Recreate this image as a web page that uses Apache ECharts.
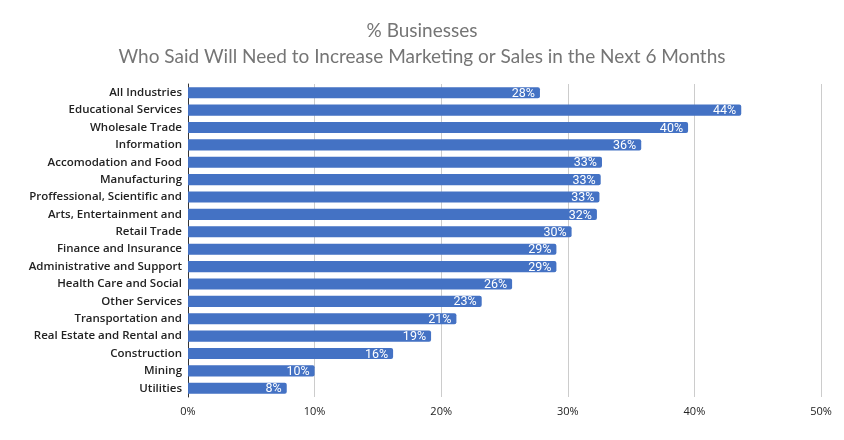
<!DOCTYPE html>
<html><head><meta charset="utf-8">
<script src="https://cdn.jsdelivr.net/npm/echarts@6/dist/echarts.min.js"></script>
<style>html,body{margin:0;padding:0;background:#fff}#c{width:844px;height:440px}</style>
</head><body><div id="c"></div>
<script>
const categories = ["All Industries","Educational Services","Wholesale Trade","Information","Accomodation and Food","Manufacturing","Proffessional, Scientific and","Arts, Entertainment and","Retail Trade","Finance and Insurance","Administrative and Support","Health Care and Social","Other Services","Transportation and","Real Estate and Rental and","Construction","Mining","Utilities"];
const values = [27.8,43.7,39.5,35.8,32.7,32.6,32.5,32.3,30.3,29.1,29.1,25.6,23.2,21.2,19.2,16.2,10.0,7.8];
const titleLines = ["% Businesses","Who Said Will Need to Increase Marketing or Sales in the Next 6 Months"];

const chart = echarts.init(document.getElementById('c'));
chart.setOption({
  animation:false,
  title:{text:titleLines.join('\n'),left:'center',top:13,
    textStyle:{color:'#757575',fontSize:19,fontWeight:'normal',fontFamily:'Lato',lineHeight:26}},
  grid:{left:188,right:23,top:84,bottom:43,containLabel:false},
  xAxis:{type:'value',min:0,max:50,interval:10,
    axisLabel:{formatter:'{value}%',color:'#222',fontSize:11,fontFamily:'Open Sans',margin:9},
    axisLine:{show:false},axisTick:{show:false},
    splitLine:{lineStyle:{color:'#cccccc'}}},
  yAxis:{type:'category',data:categories,inverse:true,
    axisLine:{lineStyle:{color:'#333'}},axisTick:{show:false},
    axisLabel:{color:'#222',fontSize:11.5,fontFamily:'Open Sans',fontWeight:600,margin:6}},
  series:[{type:'bar',data:values,barCategoryGap:'36%',
    itemStyle:{color:'#4472C4',borderRadius:[0,2,2,0]},
    label:{show:true,position:'insideRight',color:'#fff',fontSize:12.5,fontFamily:'Roboto',offset:[0,1],
      formatter:p=>Math.round(p.value)+'%'}}]
});
</script></body></html>
